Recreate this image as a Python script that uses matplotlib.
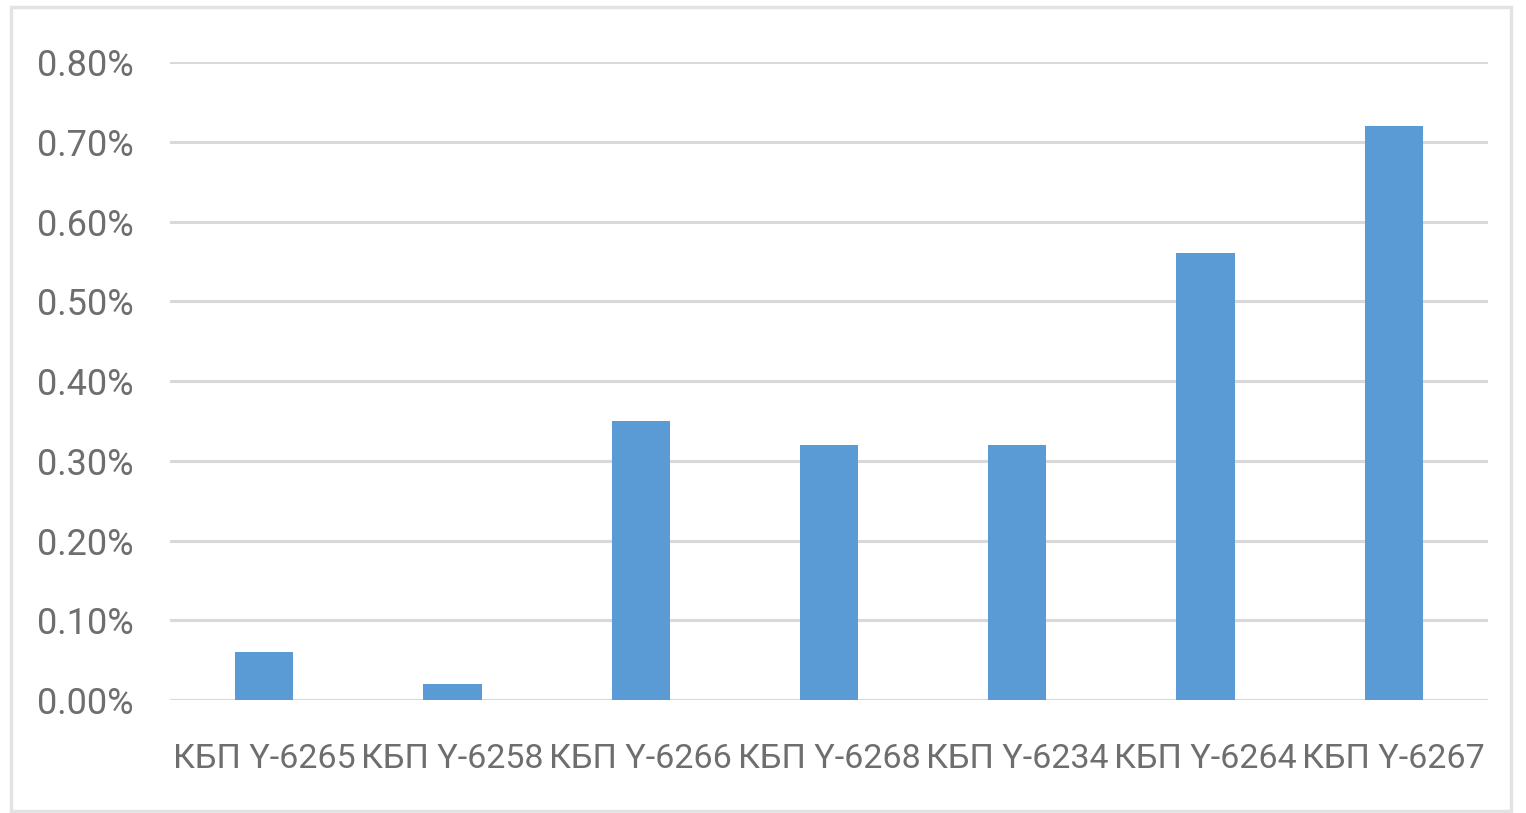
import matplotlib
matplotlib.use("Agg")
import matplotlib.pyplot as plt
from matplotlib.patches import Rectangle
from matplotlib.ticker import FuncFormatter

# Доли по скважинам, %
wells = ["КБП Ү-6265", "КБП Ү-6258", "КБП Ү-6266", "КБП Ү-6268",
         "КБП Ү-6234", "КБП Ү-6264", "КБП Ү-6267"]
shares = [0.06, 0.02, 0.35, 0.32, 0.32, 0.56, 0.72]
yticks = [0.0, 0.1, 0.2, 0.3, 0.4, 0.5, 0.6, 0.7, 0.8]

plt.rcParams['font.family'] = ['Roboto', 'DejaVu Sans']

bar_color = "#5B9BD5"
text_color = "#6E6E6E"
grid_color = "#D9D9D9"

fig = plt.figure(figsize=(15.26, 8.13), dpi=100)
ax = fig.add_axes([0.1114, 0.139, 0.9751 - 0.1114, 0.9237 - 0.139])

x = range(len(wells))
ax.bar(x, shares, width=0.31, color=bar_color, zorder=3)

ax.set_xlim(-0.5, len(wells) - 0.5)
ax.set_ylim(0, 0.8)
ax.set_yticks(yticks)
ax.yaxis.set_major_formatter(FuncFormatter(lambda v, p: f"{v:.2f}%"))
ax.set_xticks(list(x))
ax.set_xticklabels(wells)

ax.grid(axis='y', color=grid_color, linewidth=2.2, zorder=0)
for s in ax.spines.values():
    s.set_visible(False)
ax.tick_params(axis='both', length=0, labelcolor=text_color)
ax.tick_params(axis='y', pad=26, labelsize=26)
ax.tick_params(axis='x', pad=31, labelsize=24.5)

# рамка вокруг диаграммы
fig.patches.append(Rectangle((11 / 1526, 1 - 811 / 813), 1500 / 1526, 804 / 813,
                             transform=fig.transFigure, fill=False,
                             edgecolor="#E3E3E3", linewidth=2.5))

fig.savefig("out.png", dpi=100, facecolor="white")
